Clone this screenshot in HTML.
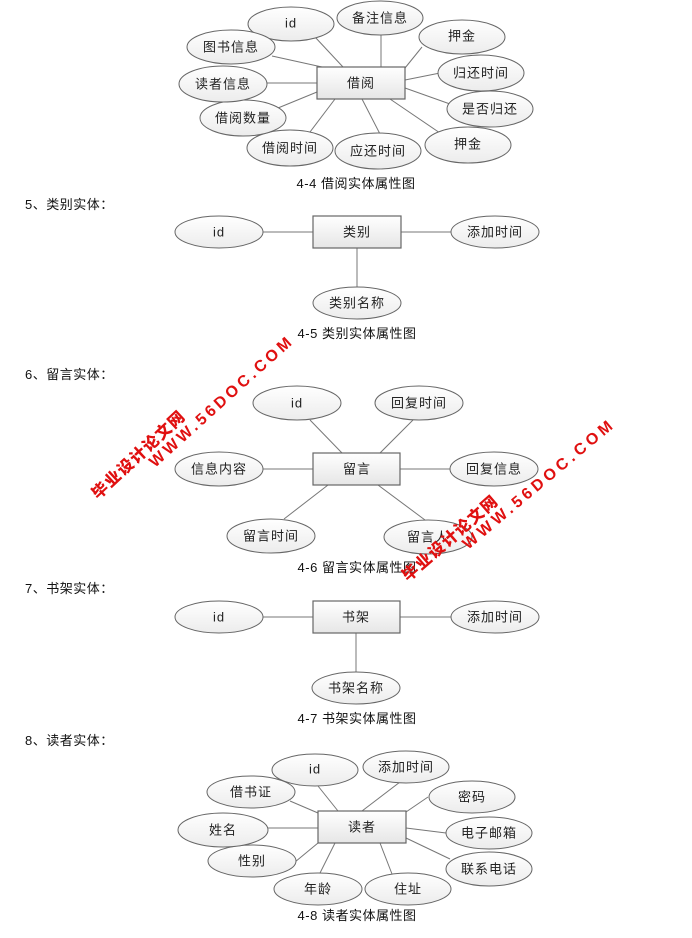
<!DOCTYPE html>
<html><head><meta charset="utf-8"><style>
html,body{margin:0;padding:0;background:#fff;}
svg{display:block;font-family:"Liberation Sans","Noto Sans CJK SC",sans-serif;}
.l{stroke:#777;stroke-width:1;}
.e{fill:url(#eg);stroke:#666;stroke-width:1;}
.r{fill:url(#rg);stroke:#666;stroke-width:1.2;}
.t{font-size:13px;fill:#222;text-anchor:middle;dominant-baseline:central;letter-spacing:1px;}
.c{font-size:13px;fill:#111;text-anchor:middle;letter-spacing:0.5px;}
.h{font-size:13px;fill:#111;letter-spacing:0.5px;}
.w{font-weight:900;fill:#e01010;font-size:16px;}
</style></head><body>
<svg width="692" height="938" viewBox="0 0 692 938" xmlns="http://www.w3.org/2000/svg">
<defs>
<linearGradient id="eg" x1="0" y1="0" x2="0" y2="1"><stop offset="0" stop-color="#fff"/><stop offset="1" stop-color="#ececec"/></linearGradient>
<linearGradient id="rg" x1="0" y1="0" x2="0" y2="1"><stop offset="0" stop-color="#fff"/><stop offset="1" stop-color="#e6e6e6"/></linearGradient>
</defs>

<!-- Diagram 4-4 -->
<g>
<line class="l" x1="343" y1="67" x2="315" y2="37"/>
<line class="l" x1="381" y1="67" x2="381" y2="34"/>
<line class="l" x1="405" y1="68" x2="422" y2="47"/>
<line class="l" x1="405" y1="80" x2="440" y2="73"/>
<line class="l" x1="405" y1="88" x2="450" y2="104"/>
<line class="l" x1="390" y1="99" x2="440" y2="133"/>
<line class="l" x1="362" y1="99" x2="380" y2="134"/>
<line class="l" x1="335" y1="99" x2="310" y2="132"/>
<line class="l" x1="317" y1="92" x2="278" y2="108"/>
<line class="l" x1="317" y1="83" x2="266" y2="83"/>
<line class="l" x1="322" y1="67" x2="272" y2="56"/>
<ellipse class="e" cx="291" cy="24" rx="43" ry="17"/><text class="t" x="291" y="23">id</text>
<ellipse class="e" cx="380" cy="18" rx="43" ry="17"/><text class="t" x="380" y="18">备注信息</text>
<ellipse class="e" cx="462" cy="37" rx="43" ry="17"/><text class="t" x="462" y="36">押金</text>
<ellipse class="e" cx="481" cy="73" rx="43" ry="18"/><text class="t" x="481" y="73">归还时间</text>
<ellipse class="e" cx="490" cy="109" rx="43" ry="18"/><text class="t" x="490" y="109">是否归还</text>
<ellipse class="e" cx="468" cy="145" rx="43" ry="18"/><text class="t" x="468" y="144">押金</text>
<ellipse class="e" cx="378" cy="151" rx="43" ry="18"/><text class="t" x="378" y="151">应还时间</text>
<ellipse class="e" cx="290" cy="148" rx="43" ry="18"/><text class="t" x="290" y="148">借阅时间</text>
<ellipse class="e" cx="243" cy="118" rx="43" ry="18"/><text class="t" x="243" y="118">借阅数量</text>
<ellipse class="e" cx="223" cy="84" rx="44" ry="18"/><text class="t" x="223" y="84">读者信息</text>
<ellipse class="e" cx="231" cy="47" rx="44" ry="17"/><text class="t" x="231" y="47">图书信息</text>
<rect class="r" x="317" y="67" width="88" height="32"/><text class="t" x="361" y="83">借阅</text>
<text class="c" x="356" y="188">4-4 借阅实体属性图</text>
</g>

<text class="h" x="25" y="209">5、类别实体：</text>
<g>
<line class="l" x1="263" y1="232" x2="313" y2="232"/>
<line class="l" x1="401" y1="232" x2="451" y2="232"/>
<line class="l" x1="357" y1="248" x2="357" y2="288"/>
<ellipse class="e" cx="219" cy="232" rx="44" ry="16"/><text class="t" x="219" y="232">id</text>
<ellipse class="e" cx="495" cy="232" rx="44" ry="16"/><text class="t" x="495" y="232">添加时间</text>
<ellipse class="e" cx="357" cy="303" rx="44" ry="16"/><text class="t" x="357" y="303">类别名称</text>
<rect class="r" x="313" y="216" width="88" height="32"/><text class="t" x="357" y="232">类别</text>
<text class="c" x="357" y="338">4-5 类别实体属性图</text>
</g>

<text class="h" x="25" y="379">6、留言实体：</text>
<g>
<line class="l" x1="342" y1="453" x2="310" y2="420"/>
<line class="l" x1="380" y1="453" x2="413" y2="420"/>
<line class="l" x1="262" y1="469" x2="313" y2="469"/>
<line class="l" x1="400" y1="469" x2="450" y2="469"/>
<line class="l" x1="328" y1="485" x2="284" y2="519"/>
<line class="l" x1="378" y1="485" x2="425" y2="520"/>
<ellipse class="e" cx="297" cy="403" rx="44" ry="17"/><text class="t" x="297" y="403">id</text>
<ellipse class="e" cx="419" cy="403" rx="44" ry="17"/><text class="t" x="419" y="403">回复时间</text>
<ellipse class="e" cx="219" cy="469" rx="44" ry="17"/><text class="t" x="219" y="469">信息内容</text>
<ellipse class="e" cx="494" cy="469" rx="44" ry="17"/><text class="t" x="494" y="469">回复信息</text>
<ellipse class="e" cx="271" cy="536" rx="44" ry="17"/><text class="t" x="271" y="536">留言时间</text>
<ellipse class="e" cx="428" cy="537" rx="44" ry="17"/><text class="t" x="428" y="537">留言人</text>
<rect class="r" x="313" y="453" width="87" height="32"/><text class="t" x="357" y="469">留言</text>
<text class="c" x="357" y="572">4-6 留言实体属性图</text>
</g>

<text class="h" x="25" y="593">7、书架实体：</text>
<g>
<line class="l" x1="263" y1="617" x2="313" y2="617"/>
<line class="l" x1="400" y1="617" x2="451" y2="617"/>
<line class="l" x1="356" y1="633" x2="356" y2="672"/>
<ellipse class="e" cx="219" cy="617" rx="44" ry="16"/><text class="t" x="219" y="617">id</text>
<ellipse class="e" cx="495" cy="617" rx="44" ry="16"/><text class="t" x="495" y="617">添加时间</text>
<ellipse class="e" cx="356" cy="688" rx="44" ry="16"/><text class="t" x="356" y="688">书架名称</text>
<rect class="r" x="313" y="601" width="87" height="32"/><text class="t" x="356" y="617">书架</text>
<text class="c" x="357" y="723">4-7 书架实体属性图</text>
</g>

<text class="h" x="25" y="745">8、读者实体：</text>
<g>
<line class="l" x1="338" y1="811" x2="318" y2="786"/>
<line class="l" x1="362" y1="811" x2="400" y2="782"/>
<line class="l" x1="406" y1="812" x2="428" y2="797"/>
<line class="l" x1="406" y1="828" x2="446" y2="833"/>
<line class="l" x1="406" y1="838" x2="450" y2="859"/>
<line class="l" x1="380" y1="843" x2="392" y2="874"/>
<line class="l" x1="335" y1="843" x2="320" y2="873"/>
<line class="l" x1="318" y1="843" x2="295" y2="862"/>
<line class="l" x1="318" y1="828" x2="268" y2="828"/>
<line class="l" x1="318" y1="813" x2="290" y2="801"/>
<ellipse class="e" cx="315" cy="770" rx="43" ry="16"/><text class="t" x="315" y="769">id</text>
<ellipse class="e" cx="406" cy="767" rx="43" ry="16"/><text class="t" x="406" y="767">添加时间</text>
<ellipse class="e" cx="472" cy="797" rx="43" ry="16"/><text class="t" x="472" y="797">密码</text>
<ellipse class="e" cx="489" cy="833" rx="43" ry="16"/><text class="t" x="489" y="833">电子邮箱</text>
<ellipse class="e" cx="489" cy="869" rx="43" ry="17"/><text class="t" x="489" y="869">联系电话</text>
<ellipse class="e" cx="408" cy="889" rx="43" ry="16"/><text class="t" x="408" y="889">住址</text>
<ellipse class="e" cx="318" cy="889" rx="44" ry="16"/><text class="t" x="318" y="889">年龄</text>
<ellipse class="e" cx="252" cy="861" rx="44" ry="16"/><text class="t" x="252" y="861">性别</text>
<ellipse class="e" cx="223" cy="830" rx="45" ry="17"/><text class="t" x="223" y="830">姓名</text>
<ellipse class="e" cx="251" cy="792" rx="44" ry="16"/><text class="t" x="251" y="792">借书证</text>
<rect class="r" x="318" y="811" width="88" height="32"/><text class="t" x="362" y="827">读者</text>
<text class="c" x="357" y="920">4-8 读者实体属性图</text>
</g>

<!-- watermarks -->
<text class="w" transform="translate(155,468) rotate(-42)" textLength="185" lengthAdjust="spacing">WWW.56DOC.COM</text>
<text class="w" transform="translate(98,500) rotate(-43)" textLength="120" lengthAdjust="spacing">毕业设计论文网</text>
<text class="w" transform="translate(468,550) rotate(-40)" textLength="190" lengthAdjust="spacing">WWW.56DOC.COM</text>
<text class="w" transform="translate(408,582) rotate(-41)" textLength="120" lengthAdjust="spacing">毕业设计论文网</text>
</svg>
</body></html>
